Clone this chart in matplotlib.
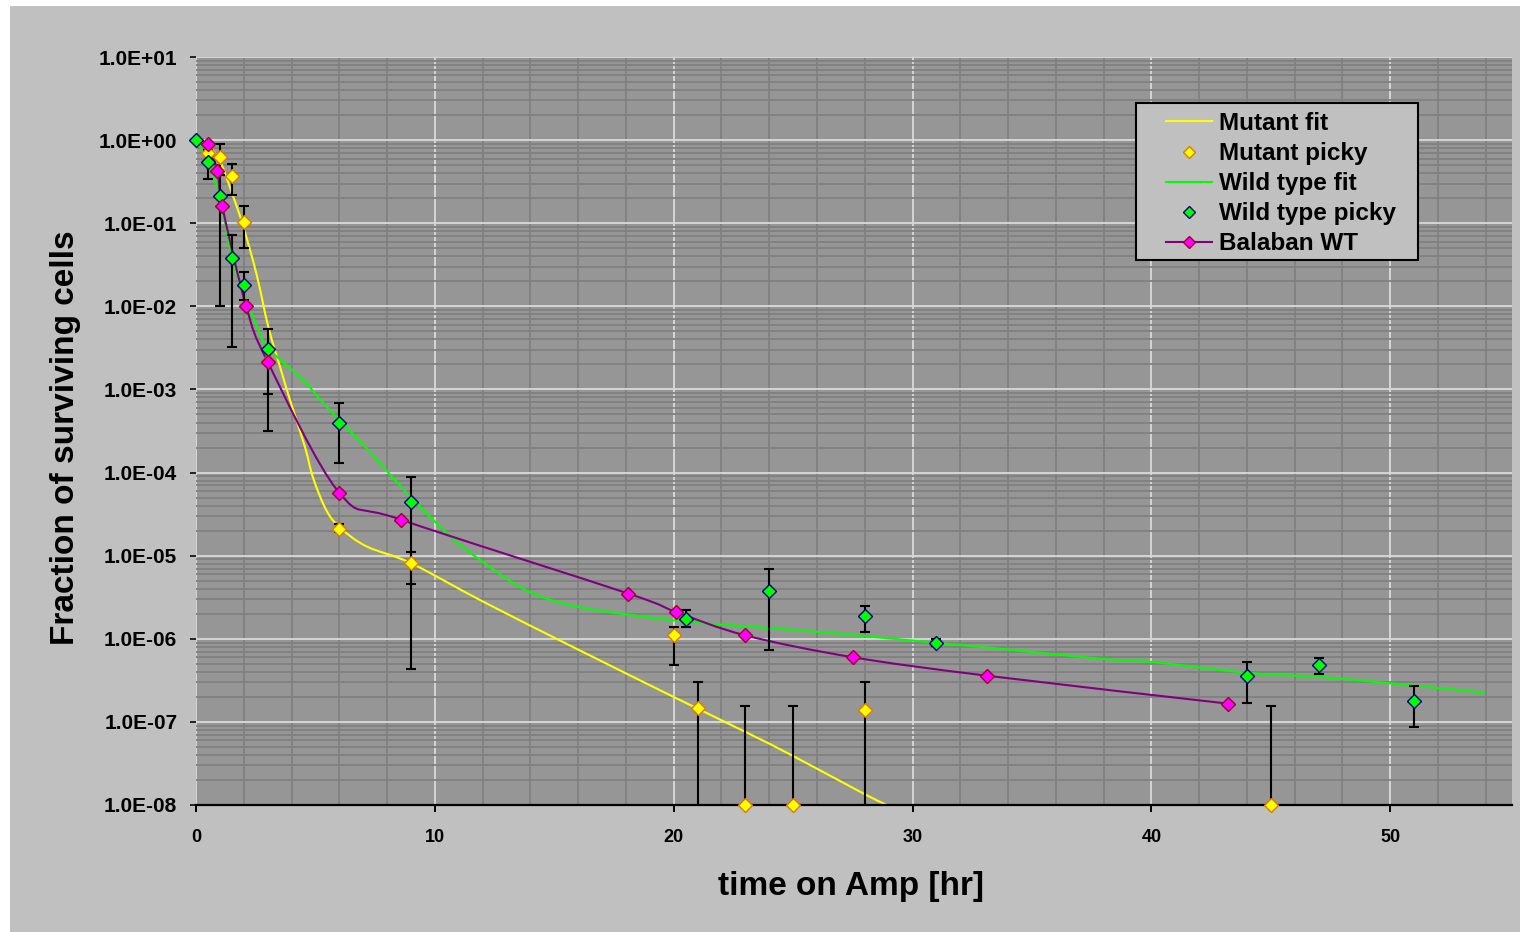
import numpy as np
import matplotlib
matplotlib.use("Agg")
import matplotlib.pyplot as plt
from matplotlib.path import Path
from matplotlib.patches import PathPatch, Rectangle
from matplotlib.lines import Line2D
from matplotlib.ticker import LogLocator, MultipleLocator, NullFormatter

# ---------------- data ----------------
# Mutant picky: time [hr], surviving fraction, error-bar bounds
mut_t = [0.5, 1.0, 1.5, 2.0, 3.0, 6.0, 9.0, 20.0, 21.0, 23.0, 25.0, 28.0, 45.0]
mut_v = [0.70, 0.62, 0.37, 0.104, 2.2e-3, 2.1e-5, 8.1e-6, 1.12e-6, 1.48e-7, 1e-8, 1e-8, 1.4e-7, 1e-8]
mut_hi = [0.70, 0.89, 0.52, 0.16, 3.0e-3, 2.4e-5, 1.1e-5, 1.4e-6, 3.0e-7, 1.55e-7, 1.55e-7, 3.0e-7, 1.55e-7]
mut_lo = [0.70, 0.38, 0.217, 0.05, 3.2e-4, 1.9e-5, 4.6e-6, 4.9e-7, 1e-12, 1e-8, 1e-8, 1e-12, 1e-8]

# Wild type picky
wt_t = [0.0, 0.5, 1.0, 1.5, 2.0, 3.0, 6.0, 9.0, 20.5, 24.0, 28.0, 31.0, 44.0, 47.0, 51.0]
wt_v = [1.0, 0.55, 0.21, 0.038, 0.018, 3.1e-3, 4.0e-4, 4.4e-5, 1.75e-6, 3.8e-6, 1.86e-6,
        8.9e-7, 3.55e-7, 4.8e-7, 1.78e-7]
wt_hi = [1.0, 0.77, 0.38, 0.073, 0.026, 5.3e-3, 6.8e-4, 8.9e-5, 2.2e-6, 6.9e-6, 2.5e-6,
         1.0e-6, 5.3e-7, 5.9e-7, 2.7e-7]
wt_lo = [1.0, 0.34, 0.01, 3.2e-3, 0.012, 8.9e-4, 1.3e-4, 4.3e-7, 1.4e-6, 7.3e-7, 1.2e-6,
         8.2e-7, 1.7e-7, 3.8e-7, 8.7e-8]

# Balaban WT
bal_t = [0.5, 0.9, 1.1, 2.1, 3.0, 6.0, 8.6, 18.1, 20.1, 23.0, 27.5, 33.1, 43.2]
bal_v = [0.89, 0.42, 0.16, 0.01, 2.15e-3, 5.7e-5, 2.7e-5, 3.5e-6, 2.1e-6, 1.1e-6, 6.0e-7, 3.6e-7, 1.66e-7]

# Fitted curves (time, log10 fraction)
mfit_t = [0.0, 0.5, 1.0, 1.56, 1.98, 2.54, 3.03, 3.52, 3.94, 4.56, 4.91, 5.47,
          6.06, 7.15, 9.0, 12.0, 16.0, 20.0, 23.0, 25.0, 28.0, 29.3]
mfit_log = [0.0, -0.07, -0.25, -0.68, -1.04, -1.62, -2.25, -2.73, -3.13, -3.69, -4.07,
            -4.46, -4.67, -4.89, -5.09, -5.55, -6.13, -6.70, -7.12, -7.41, -7.87, -8.05]

wfit_t = [0.0, 0.5, 1.0, 1.49, 1.98, 2.68, 3.03, 4.49, 5.19, 6.03, 7.15, 7.99, 9.10,
          10.77, 11.89, 13.85, 16.08, 20.05, 22.5, 25.29, 28.08, 31.04, 33.67, 37.86,
          40.09, 44.01, 47.08, 50.14, 53.98]
wfit_log = [0.0, -0.26, -0.68, -1.40, -1.84, -2.33, -2.51, -2.89, -3.12, -3.38, -3.71,
            -3.98, -4.33, -4.80, -5.05, -5.42, -5.62, -5.78, -5.84, -5.90, -5.97, -6.05,
            -6.12, -6.24, -6.28, -6.41, -6.46, -6.54, -6.65]

x_ticks = [0, 10, 20, 30, 40, 50]
y_ticks = [1e1, 1e0, 1e-1, 1e-2, 1e-3, 1e-4, 1e-5, 1e-6, 1e-7, 1e-8]
y_tick_labels = ["1.0E+01", "1.0E+00", "1.0E-01", "1.0E-02", "1.0E-03",
                 "1.0E-04", "1.0E-05", "1.0E-06", "1.0E-07", "1.0E-08"]

legend_labels = ["Mutant fit", "Mutant picky", "Wild type fit", "Wild type picky", "Balaban WT"]

# ---------------- helpers ----------------
def smooth_path(t, logy):
    """Smoothed (Catmull-Rom style) Bezier path through points in (t, log10 y)."""
    x = np.asarray(t, float)
    ly = np.asarray(logy, float)
    n = len(x)
    verts = [(x[0], ly[0])]
    codes = [Path.MOVETO]
    for i in range(n - 1):
        p0 = np.array([x[max(i - 1, 0)], ly[max(i - 1, 0)]])
        p1 = np.array([x[i], ly[i]])
        p2 = np.array([x[i + 1], ly[i + 1]])
        p3 = np.array([x[min(i + 2, n - 1)], ly[min(i + 2, n - 1)]])
        c1 = p1 + (p2 - p0) / 6.0
        c2 = p2 - (p3 - p1) / 6.0
        verts += [tuple(c1), tuple(c2), tuple(p2)]
        codes += [Path.CURVE4] * 3
    v = np.array(verts)
    v[:, 1] = 10 ** v[:, 1]
    return Path(v, codes)


def draw_curve(ax, t, logy, color, lw, z):
    patch = PathPatch(smooth_path(t, logy), facecolor="none", edgecolor=color,
                      lw=lw, zorder=z, capstyle="butt", joinstyle="round")
    ax.add_patch(patch)


# ---------------- figure ----------------
W, H = 1520, 932
fig = plt.figure(figsize=(W / 100, H / 100), dpi=100, facecolor="white")
fig.patches.append(Rectangle((10 / W, 0), 1 - 10 / W, 926 / H, transform=fig.transFigure,
                             facecolor="#c0c0c0", edgecolor="none", zorder=-10))

L, R, T, B = 196, 1512, 57, 805
ax = fig.add_axes([L / W, 1 - B / H, (R - L) / W, (B - T) / H])
ax.set_facecolor("#969696")
ax.set_yscale("log")
ax.set_xlim(0, 55.1)
ax.set_ylim(1e-8, 1e1)

# grid
ax.set_axisbelow(True)
ax.xaxis.set_minor_locator(MultipleLocator(2))
ax.yaxis.set_minor_locator(LogLocator(base=10, subs=np.arange(2, 10), numticks=20))
ax.yaxis.set_minor_formatter(NullFormatter())
ax.grid(which="minor", color="#808080", lw=1.3)
ax.grid(which="major", color="#dadada", lw=1.3)

for s in ("left", "top", "right"):
    ax.spines[s].set_visible(False)
ax.spines["bottom"].set_color("black")
ax.spines["bottom"].set_linewidth(1.6)

ax.set_xticks(x_ticks)
ax.set_xticklabels([str(v) for v in x_ticks], fontsize=13, fontweight="bold",
                   family=["Liberation Sans Narrow", "Liberation Sans", "DejaVu Sans"])
ax.set_yticks(y_ticks)
ax.set_yticklabels(y_tick_labels, fontsize=15, fontweight="bold", family="Liberation Sans")
ax.tick_params(axis="x", which="major", direction="out", length=5, width=1.4, color="black", pad=12)
ax.tick_params(axis="y", which="major", direction="out", length=4.5, width=1.4, color="#222222", pad=9)
ax.tick_params(which="minor", length=0)

ax.set_xlabel("time on Amp [hr]", fontsize=24, fontweight="bold", family="Liberation Sans")
ax.set_ylabel("Fraction of surviving cells", fontsize=24, fontweight="bold", family="Liberation Sans")
ax.xaxis.set_label_coords((851 - L) / (R - L), (B - 887) / (B - T))
ax.xaxis.label.set_va("center")
ax.yaxis.set_label_coords((65 - L) / (R - L), (B - 438) / (B - T))
ax.yaxis.label.set_va("center")

# colours
YEL, YEL_EDGE = "#ffff00", "#e07800"
GRN, GRN_EDGE = "#00ff00", "#000080"
MAG, MAG_EDGE = "#ff00ff", "#a00030"
PUR = "#800080"
MS = 6.8

# Mutant fit + picky
draw_curve(ax, mfit_t, mfit_log, YEL, 1.5, 2)
mv = np.array(mut_v)
ax.errorbar(mut_t, mut_v, yerr=[mv - np.array(mut_lo), np.array(mut_hi) - mv], fmt="none",
            ecolor="black", elinewidth=1.5, capsize=3.6, capthick=1.5, zorder=3)
ax.plot(mut_t, mut_v, ls="none", marker="D", ms=MS, mfc=YEL, mec=YEL_EDGE, mew=1.0,
        clip_on=False, zorder=4)

# Wild type fit + picky
draw_curve(ax, wfit_t, wfit_log, GRN, 1.5, 2.1)
wv = np.array(wt_v)
ax.errorbar(wt_t, wt_v, yerr=[wv - np.array(wt_lo), np.array(wt_hi) - wv], fmt="none",
            ecolor="black", elinewidth=1.5, capsize=3.6, capthick=1.5, zorder=3.1)
ax.plot(wt_t, wt_v, ls="none", marker="D", ms=MS, mfc=GRN, mec=GRN_EDGE, mew=1.0,
        clip_on=False, zorder=4.1)

# Balaban WT
draw_curve(ax, bal_t, np.log10(bal_v), PUR, 1.5, 2.2)
ax.plot(bal_t, bal_v, ls="none", marker="D", ms=MS, mfc=MAG, mec=MAG_EDGE, mew=1.0,
        clip_on=False, zorder=4.2)

# legend
lx0, lx1, ly0, ly1 = 1136, 1418, 103, 260
ax.add_patch(Rectangle(((lx0 - L) / (R - L), (B - ly1) / (B - T)),
                       (lx1 - lx0) / (R - L), (ly1 - ly0) / (B - T),
                       transform=ax.transAxes, facecolor="#c0c0c0", edgecolor="black",
                       lw=1.5, zorder=5, clip_on=False))
handles = [
    Line2D([], [], color=YEL, lw=1.5),
    Line2D([], [], ls="none", marker="D", ms=6, mfc=YEL, mec=YEL_EDGE),
    Line2D([], [], color=GRN, lw=1.5),
    Line2D([], [], ls="none", marker="D", ms=6, mfc=GRN, mec=GRN_EDGE),
    Line2D([], [], color=PUR, lw=1.5, marker="D", ms=6, mfc=MAG, mec=MAG_EDGE),
]
leg = ax.legend(handles, legend_labels, loc="upper left",
                bbox_to_anchor=((1166 - L) / (R - L), (B - 112) / (B - T)),
                frameon=False, borderpad=0, borderaxespad=0, handlelength=1.9,
                handletextpad=0.3, labelspacing=0.29,
                prop={"family": "Liberation Sans", "weight": "bold", "size": 17.5})
leg.set_zorder(6)

fig.savefig("out.png", dpi=100, facecolor=fig.get_facecolor())
